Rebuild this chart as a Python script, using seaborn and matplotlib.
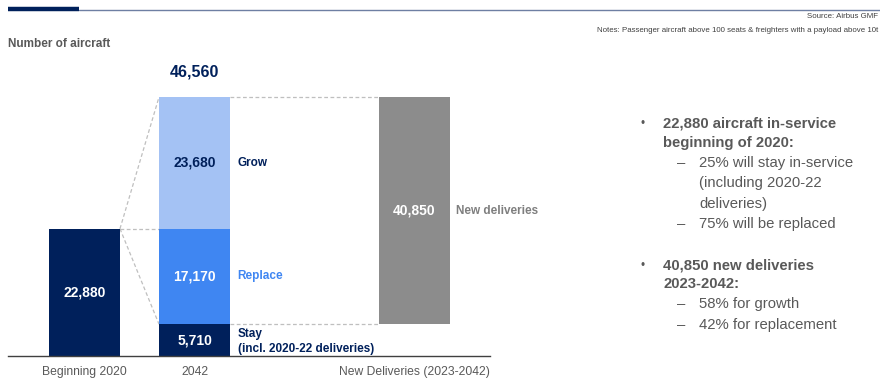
import matplotlib
matplotlib.use("Agg")
import matplotlib.pyplot as plt
from matplotlib.lines import Line2D
import pandas as pd
import seaborn as sns

# Fleet data (number of aircraft)
bar_names = ["Beginning 2020", "2042", "New Deliveries (2023-2042)"]
bar_pos = [0, 1, 3]
fleet_2020 = 22880
stay = 5710
replace = 17170
grow = 23680
new_deliveries = 40850
total_2042 = stay + replace + grow

NAVY = "#00205B"
BLUE = "#3F86F2"
LIGHT = "#A4C2F4"
GREY = "#8C8C8C"
TEXT = "#595959"
DASH = "#BFBFBF"

sns.set_style("white")
plt.rcParams["font.family"] = ["Liberation Sans", "DejaVu Sans"]

W, H = 880, 379
fig = plt.figure(figsize=(W / 100, H / 100), dpi=100)


def fx(px):
    return px / W


def fy(py):
    return 1 - py / H


ax_left, ax_right, ax_base, ax_top = 8, 490, 356, 60
ax = fig.add_axes([fx(ax_left), fy(ax_base), fx(ax_right - ax_left), (ax_base - ax_top) / H])

bar_w = 0.645
segments = pd.DataFrame({
    "pos": [bar_pos[0], bar_pos[1], bar_pos[1], bar_pos[1], bar_pos[2]],
    "value": [fleet_2020, stay, replace, grow, new_deliveries],
    "bottom": [0, 0, stay, stay + replace, stay],
    "color": [NAVY, NAVY, BLUE, LIGHT, GREY],
    "label_color": ["white", "white", "white", NAVY, "white"],
})

for _, row in segments.iterrows():
    sns.barplot(data=pd.DataFrame({"pos": [row["pos"]], "value": [row["value"]]}),
                x="pos", y="value", native_scale=True, width=bar_w,
                color=row["color"], saturation=1, errorbar=None,
                bottom=row["bottom"], linewidth=0, ax=ax)
    ax.text(row["pos"], row["bottom"] + row["value"] / 2, f"{row['value']:,}",
            ha="center", va="center", fontsize=10, fontweight="bold",
            color=row["label_color"])

scale = total_2042 / (ax_base - 97)
ax.set_xlim((ax_left - 84.5) / 110, (ax_right - 84.5) / 110)
ax.set_ylim(0, (ax_base - ax_top) * scale)

# Total above the 2042 bar
ax.annotate(f"{total_2042:,}", (bar_pos[1], total_2042), xytext=(0, 18),
            textcoords="offset points", ha="center", va="center",
            fontsize=11.5, fontweight="bold", color=NAVY)

# Segment names to the right of the bars
right_edge = bar_pos[1] + bar_w / 2
for y, txt, col in [(stay + replace + grow / 2, "Grow", NAVY),
                    (stay + replace / 2, "Replace", BLUE)]:
    ax.annotate(txt, (right_edge, y), xytext=(5.5, 0), textcoords="offset points",
                ha="left", va="center", fontsize=8.5, fontweight="bold", color=col)
ax.annotate("Stay\n(incl. 2020-22 deliveries)", (right_edge, stay / 2), xytext=(5.5, -1),
            textcoords="offset points", ha="left", va="center", fontsize=8.5,
            fontweight="bold", color=NAVY, linespacing=1.35)
ax.annotate("New deliveries", (bar_pos[2] + bar_w / 2, stay + new_deliveries / 2),
            xytext=(4.5, 0), textcoords="offset points", ha="left", va="center",
            fontsize=8.5, fontweight="bold", color="#7F7F7F")

# Dashed connectors between bars
l0 = bar_pos[0] + bar_w / 2
l1 = bar_pos[1] - bar_w / 2
r1 = bar_pos[1] + bar_w / 2
l3 = bar_pos[2] - bar_w / 2
conn = dict(color=DASH, lw=0.9, ls=(0, (3, 2)), zorder=0)
ax.plot([l0, l1], [fleet_2020, fleet_2020], **conn)
ax.plot([l0, l1], [fleet_2020, stay], **conn)
ax.plot([l0, l1], [fleet_2020, total_2042], **conn)
ax.plot([r1, l3], [total_2042, total_2042], **conn)
ax.plot([r1, l3], [stay, stay], **conn)

ax.set_xticks(bar_pos)
ax.set_xticklabels(bar_names, fontsize=8.7, color=TEXT)
ax.tick_params(axis="x", length=0, pad=7.5)
ax.set_yticks([])
ax.set_xlabel("")
ax.set_ylabel("")
for side in ["top", "right", "left"]:
    ax.spines[side].set_visible(False)
ax.spines["bottom"].set_color("#404040")
ax.spines["bottom"].set_linewidth(1.0)

# Header rule
fig.add_artist(Line2D([fx(79), fx(W)], [fy(9.5), fy(9.5)], color="#6E7FA3", lw=1.0))
fig.add_artist(Line2D([fx(8), fx(79)], [fy(9), fy(9)], color=NAVY, lw=3.2,
                      solid_capstyle="butt"))

fig.text(fx(8), fy(44), "Number of aircraft", ha="left", va="center",
         fontsize=8.5, fontweight="bold", color=TEXT)
fig.text(fx(878), fy(17), "Source: Airbus GMF", ha="right", va="center",
         fontsize=5.7, color="#404040")
fig.text(fx(878), fy(30),
         "Notes: Passenger aircraft above 100 seats & freighters with a payload above 10t",
         ha="right", va="center", fontsize=5.65, color="#404040")

# Key takeaways
lines = [
    (123, "bullet", "22,880 aircraft in-service"),
    (143, "cont", "beginning of 2020:"),
    (163, "dash", "25% will stay in-service"),
    (183, "sub", "(including 2020-22"),
    (204, "sub", "deliveries)"),
    (224, "dash", "75% will be replaced"),
    (265, "bullet", "40,850 new deliveries"),
    (284, "cont", "2023-2042:"),
    (304, "dash", "58% for growth"),
    (325, "dash", "42% for replacement"),
]
for y, kind, txt in lines:
    if kind in ("bullet", "cont"):
        if kind == "bullet":
            fig.text(fx(643), fy(y + 1.5), "•", ha="center", va="center",
                     fontsize=8.5, color=TEXT)
        fig.text(fx(663), fy(y), txt, ha="left", va="center", fontsize=10.7,
                 fontweight="bold", color=TEXT)
    else:
        if kind == "dash":
            fig.text(fx(681), fy(y), "–", ha="center", va="center",
                     fontsize=10.7, color=TEXT)
        fig.text(fx(699), fy(y), txt, ha="left", va="center", fontsize=10.7,
                 color=TEXT)

fig.savefig("out.png", dpi=100)
